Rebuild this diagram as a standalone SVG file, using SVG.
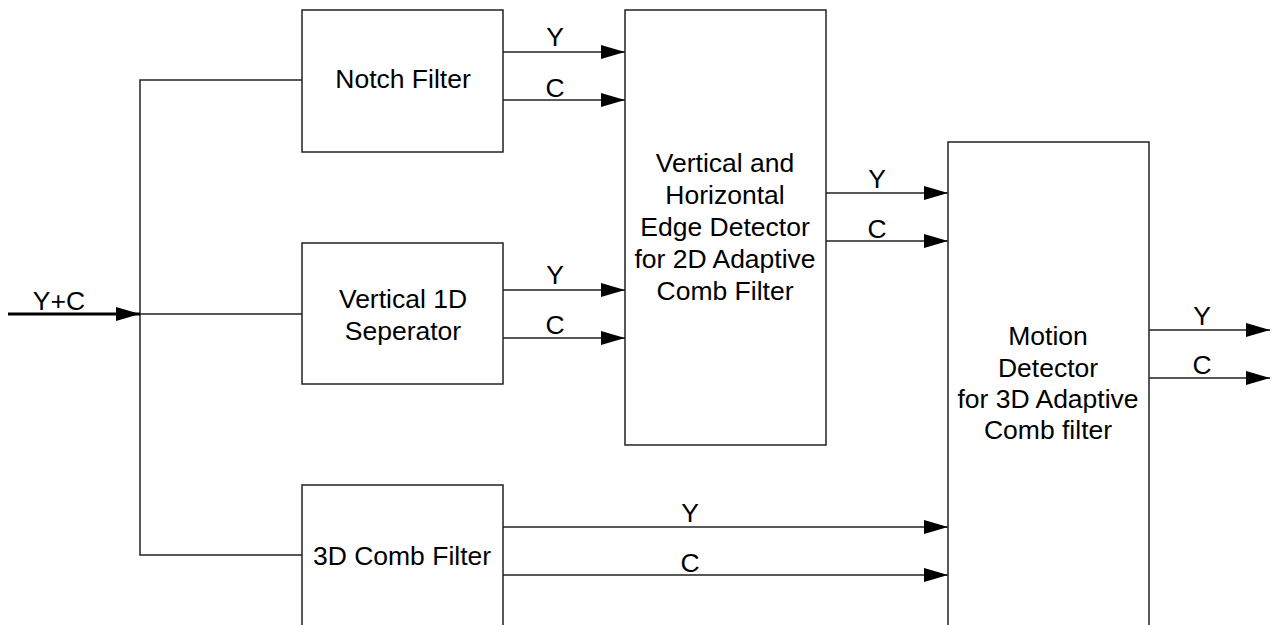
<svg xmlns="http://www.w3.org/2000/svg" width="1278" height="625" viewBox="0 0 1278 625">
<style>
.box{fill:#fff;stroke:#222;stroke-width:1.5}
.ln{fill:none;stroke:#222;stroke-width:1.5}
.t{font-family:"Liberation Sans",Arial,sans-serif;font-size:26.5px;fill:#000;text-anchor:middle}
</style>
<defs>
<marker id="ah" markerUnits="userSpaceOnUse" markerWidth="24" markerHeight="16" viewBox="0 0 24 16" refX="24" refY="8" orient="auto">
<path d="M0,1 L24,8 L0,15 Z" fill="#000"/>
</marker>
</defs>
<rect width="1278" height="625" fill="#fff"/>
<g id="connectors">
<path class="ln" d="M302,80 H140 V555 H302"/>
<path class="ln" d="M140,314 H302"/>
<path d="M8,314 H140" fill="none" stroke="#000" stroke-width="3" marker-end="url(#ah)"/>
<path class="ln" d="M503,52 H625" marker-end="url(#ah)"/>
<path class="ln" d="M503,100 H625" marker-end="url(#ah)"/>
<path class="ln" d="M503,290 H625" marker-end="url(#ah)"/>
<path class="ln" d="M503,338 H625" marker-end="url(#ah)"/>
<path class="ln" d="M826,193 H948" marker-end="url(#ah)"/>
<path class="ln" d="M826,241 H948" marker-end="url(#ah)"/>
<path class="ln" d="M503,527 H948" marker-end="url(#ah)"/>
<path class="ln" d="M503,575 H948" marker-end="url(#ah)"/>
<path class="ln" d="M1149,330 H1270" marker-end="url(#ah)"/>
<path class="ln" d="M1149,378 H1270" marker-end="url(#ah)"/>
<text class="t" x="59" y="310">Y+C</text>
<text class="t" x="555" y="46">Y</text>
<text class="t" x="555" y="97">C</text>
<text class="t" x="555" y="284">Y</text>
<text class="t" x="555" y="334">C</text>
<text class="t" x="877" y="188">Y</text>
<text class="t" x="877" y="238">C</text>
<text class="t" x="690" y="522">Y</text>
<text class="t" x="690" y="572">C</text>
<text class="t" x="1202" y="325">Y</text>
<text class="t" x="1202" y="374">C</text>
</g>
<g id="notch">
<rect class="box" x="302" y="10" width="201" height="142"/>
<text class="t" x="403" y="88">Notch Filter</text>
</g>
<g id="sep">
<rect class="box" x="302" y="243" width="201" height="141"/>
<text class="t" x="403" y="308">Vertical 1D</text>
<text class="t" x="403" y="340">Seperator</text>
</g>
<g id="comb3d">
<rect class="box" x="302" y="485" width="201" height="150"/>
<text class="t" x="402" y="565">3D Comb Filter</text>
</g>
<g id="edge2d">
<rect class="box" x="625" y="10" width="201" height="435"/>
<text class="t" x="725" y="172">Vertical and</text>
<text class="t" x="725" y="204">Horizontal</text>
<text class="t" x="725" y="236">Edge Detector</text>
<text class="t" x="725" y="268">for 2D Adaptive</text>
<text class="t" x="725" y="300">Comb Filter</text>
</g>
<g id="motion">
<rect class="box" x="948" y="142" width="201" height="493"/>
<text class="t" x="1048" y="345">Motion</text>
<text class="t" x="1048" y="377">Detector</text>
<text class="t" x="1048" y="408">for 3D Adaptive</text>
<text class="t" x="1048" y="439">Comb filter</text>
</g>
</svg>
